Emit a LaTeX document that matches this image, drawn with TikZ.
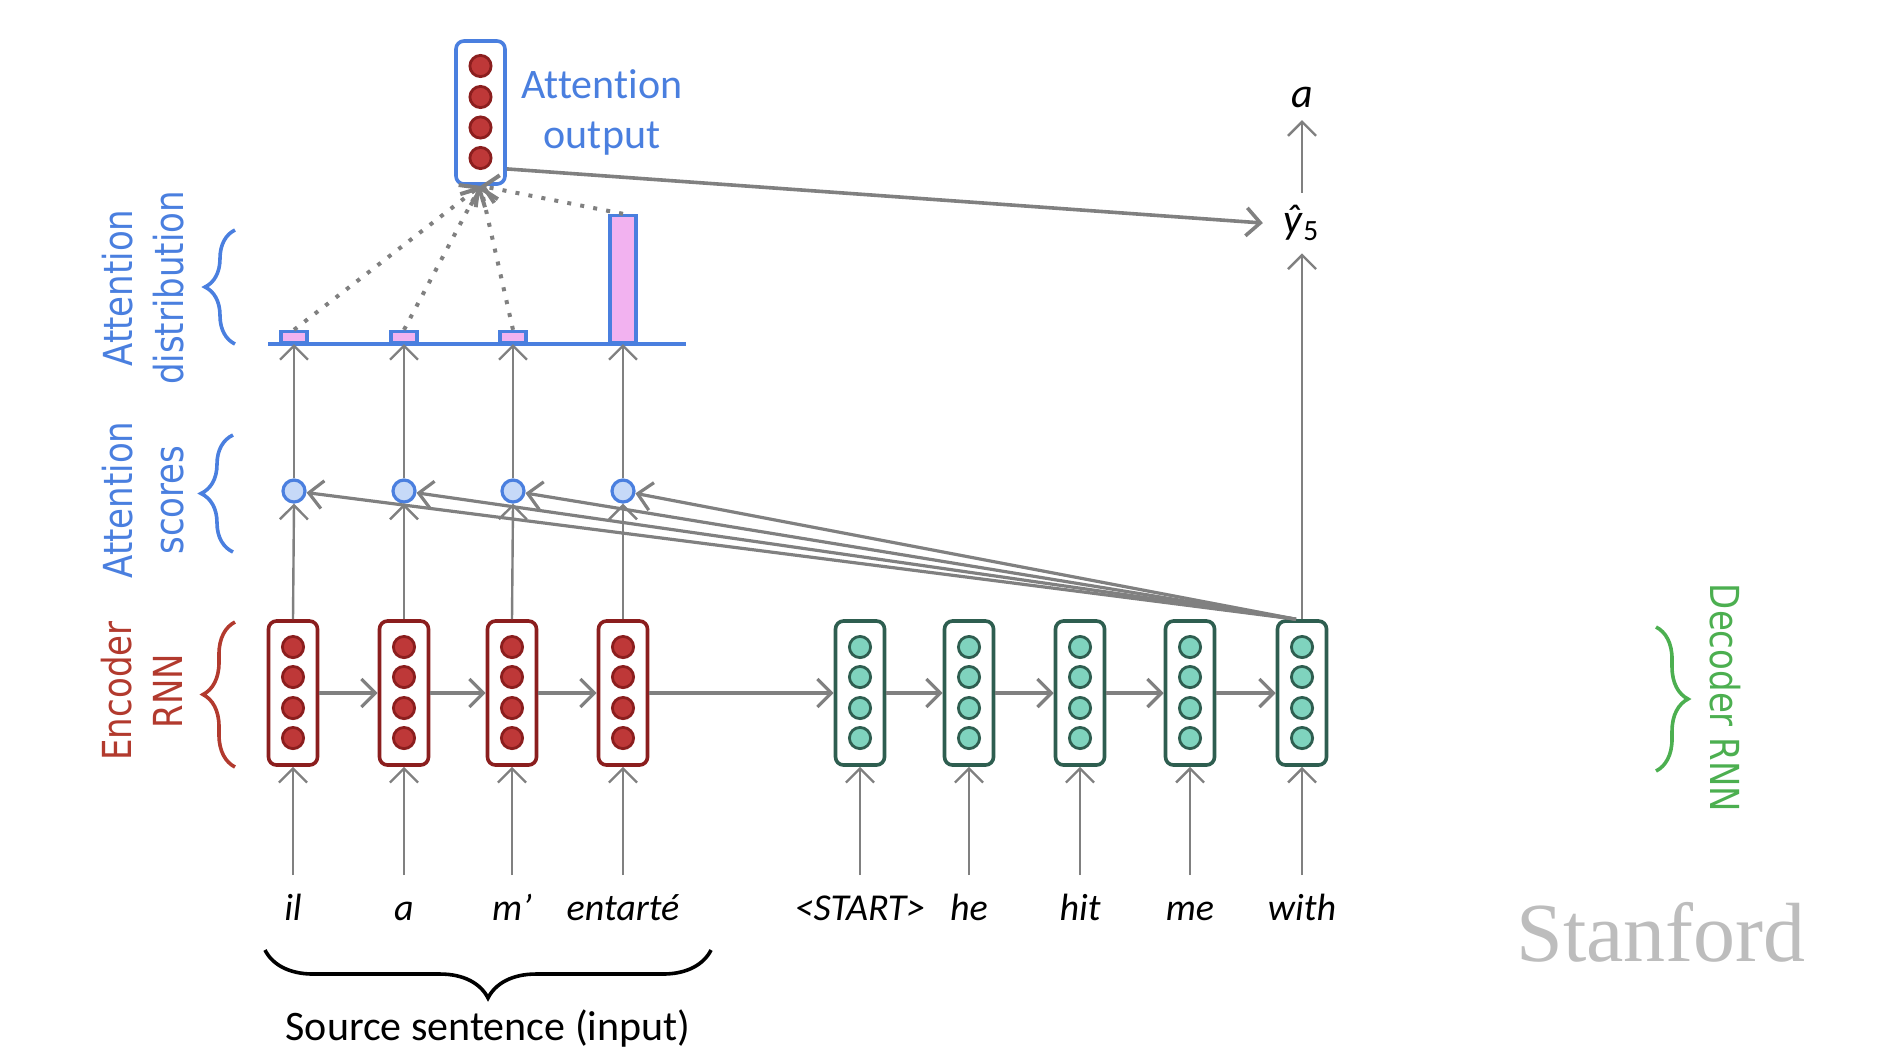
\documentclass[tikz,border=0pt]{standalone}
\usepackage{fontspec}
\setmainfont{Carlito}[Ligatures=NoCommon]
\newfontfamily\sidefont[FakeStretch=0.85]{DejaVu Sans}
\newfontfamily\logofont{Liberation Serif}
\usetikzlibrary{arrows.meta,decorations.pathreplacing}

\definecolor{attblue}{HTML}{4A7FDF}
\definecolor{scorefill}{HTML}{C6D9F8}
\definecolor{barpink}{HTML}{F2B2F0}
\definecolor{encred}{HTML}{8B1E1E}
\definecolor{encdotfill}{HTML}{BE3838}
\definecolor{enctext}{HTML}{B23A2E}
\definecolor{decdark}{HTML}{2E5E50}
\definecolor{decdotfill}{HTML}{7FD3BE}
\definecolor{decgreen}{HTML}{4CAF50}
\definecolor{arrgrey}{HTML}{808080}
\definecolor{logogrey}{HTML}{BDBDBD}

\begin{document}
\begin{tikzpicture}[x=0.25pt, y=-0.25pt,
    arr/.style={draw=arrgrey, line width=0.6pt, -{Straight Barb[length=3.5pt,width=7pt]}},
    dotarr/.style={arr, line width=1pt, dash pattern=on 1pt off 2.3pt},
    encbox/.style={draw=encred, line width=0.9pt, rounded corners=2pt, fill=white, minimum width=12.25pt, minimum height=36pt, inner sep=0pt},
    decbox/.style={encbox, draw=decdark},
    attbox/.style={encbox, draw=attblue, minimum height=35.75pt},
    encdot/.style={draw=encred, fill=encdotfill, line width=0.7pt},
    decdot/.style={draw=decdark, fill=decdotfill, line width=0.7pt},
    score/.style={circle, draw=attblue, fill=scorefill, line width=0.8pt, minimum size=5.5pt, inner sep=0pt},
    bar/.style={draw=attblue, fill=barpink, line width=0.8pt, anchor=south, minimum width=6.5pt, inner sep=0pt},
    word/.style={anchor=base, font=\fontsize{9.5}{11}\selectfont\itshape, text height=7pt, text depth=2pt, inner ysep=4pt},
    sidelabel/.style={font=\sidefont\fontsize{10}{12.8}\selectfont, align=center, inner sep=0pt},
    brace/.style={decorate, decoration={brace, amplitude=8pt}, line width=0.9pt}]
    \useasboundingbox (0,0) rectangle (1890,1052);

    % Encoder RNN
    \foreach \i/\x in {1/293,2/404,3/512,4/623} {
        \node[encbox] (e\i) at (\x,693) {};
        \foreach \k in {647,677,708,738} \draw[encdot] (\x,\k) circle (2.65pt);
    }

    % Decoder RNN
    \foreach \i/\x in {1/860,2/969,3/1080,4/1190,5/1302} {
        \node[decbox] (d\i) at (\x,693) {};
        \foreach \k in {647,677,708,738} \draw[decdot] (\x,\k) circle (2.65pt);
    }

    % Words
    \foreach \i/\x/\w in {1/293/il,2/404/a,3/512/m’,4/623/entarté}
        \node[word] (w\i) at (\x,920) {\w};
    \foreach \i/\x/\w in {1/860/<START>,2/969/he,3/1080/hit,4/1190/me,5/1302/with}
        \node[word] (v\i) at (\x,920) {\w};

    % Attention scores and distribution
    \foreach \i/\x/\h in {1/294/2.75pt,2/404/2.75pt,3/513/2.75pt,4/623/31.75pt} {
        \node[score] (s\i) at (\x,491) {};
        \node[bar, minimum height=\h] (b\i) at (\x,344) {};
    }
    \draw[attblue, line width=0.8pt] (268,344) -- (686,344);

    % Attention output
    \node[attbox] (attout) at (480.5,112.5) {};
    \foreach \k in {66,97,127.5,158} \draw[encdot] (480.5,\k) circle (2.65pt);
    \node[text=attblue, align=center, font=\fontsize{10.5}{12.5}\selectfont] (attlabel) at (602,112) {Attention\\output};

    % Output
    \node[inner xsep=5pt, inner ysep=3pt, font=\fontsize{10.5}{12}\selectfont] (yhat) at (1302,223) {\textit{\^{y}}\textsubscript{5}};
    \node[inner ysep=3pt, font=\fontsize{10.5}{12}\selectfont\itshape] (aout) at (1302,97) {a};

    % Side labels
    \node[sidelabel, text=attblue, rotate=90] (distlabel) at (143,288) {Attention\\distribution};
    \node[sidelabel, text=attblue, rotate=90] (scorelabel) at (143,500) {Attention\\scores};
    \node[sidelabel, text=enctext, rotate=90] (enclabel) at (142,691) {Encoder\\RNN};
    \node[sidelabel, text=decgreen, rotate=-90] (declabel) at (1725,698) {Decoder RNN};
    \node[anchor=base, font=\fontsize{10.5}{12}\selectfont] (srclabel) at (488,1040) {Source sentence (input)};
    \node[anchor=base, text=logogrey, font=\logofont\fontsize{21}{24}\selectfont] (logo) at (1661,961) {Stanford};

    % Braces
    \draw[brace, draw=attblue, decoration={amplitude=7.5pt}] (235,344) -- (235,230);
    \draw[brace, draw=attblue] (233,552) -- (233,435);
    \draw[brace, draw=enctext] (235,767) -- (235,622);
    \draw[brace, draw=decgreen] (1656,627) -- (1656,771);
    \draw[brace, decoration={amplitude=12pt}] (711,950) -- (265,950);

    % Arrows
    \foreach \i in {1,...,4} {
        \draw[arr] (w\i.north) -- (e\i.south);
        \draw[arr] (e\i.north) -- (s\i.south);
        \draw[arr] (s\i.north) -- (b\i.south);
        \draw[arr, line width=0.8pt] ([xshift=-1.5pt]d5.north) -- (s\i);
        \draw[dotarr] (b\i.north) -- (attout.south);
    }
    \foreach \i in {1,...,5}
        \draw[arr] (v\i.north) -- (d\i.south);
    \foreach \i/\j in {1/2,2/3,3/4}
        \draw[arr, line width=0.8pt] (e\i.east) -- (e\j.west);
    \draw[arr, line width=0.8pt] (e4.east) -- (d1.west);
    \foreach \i/\j in {1/2,2/3,3/4,4/5}
        \draw[arr, line width=0.8pt] (d\i.east) -- (d\j.west);
    \draw[arr, line width=0.9pt] (attout.-65) -- (yhat.west);
    \draw[arr] (d5.north) -- (yhat.south);
    \draw[arr] (yhat.north) -- (aout.south);
\end{tikzpicture}
\end{document}
